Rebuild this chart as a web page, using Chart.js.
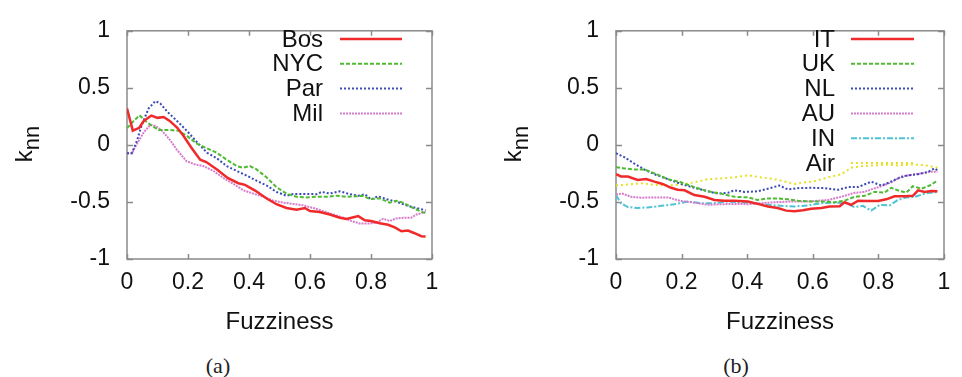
<!DOCTYPE html>
<html>
<head>
<meta charset="utf-8">
<script src="https://cdn.jsdelivr.net/npm/chart.js@4.4.1/dist/chart.umd.min.js"></script>
<style>
  body { margin: 0; background: #fff; width: 962px; height: 377px; position: relative; overflow: hidden; }
  canvas { position: absolute; top: 0; }
  #panel-a { left: 0; }
  #panel-b { left: 481px; }
  .cap { position: absolute; top: 353px; font: 22px 'Liberation Serif', serif; color: #222; transform: translateX(-50%); }
</style>
</head>
<body>
<canvas id="panel-a" width="481" height="340"></canvas>
<canvas id="panel-b" width="481" height="340"></canvas>
<div class="cap" style="left:218px">(a)</div>
<div class="cap" style="left:736px">(b)</div>
<script>
// --- Axis ticks ---
const xTicks = [0, 0.2, 0.4, 0.6, 0.8, 1];
const yTicks = [-1, -0.5, 0, 0.5, 1];

// --- Panel (a): cities ---
const bosX = [0, 0.019, 0.04, 0.055, 0.08, 0.1, 0.12, 0.14, 0.165, 0.185, 0.21, 0.24, 0.26, 0.295, 0.33, 0.365, 0.387, 0.42, 0.458, 0.49, 0.523, 0.556, 0.583, 0.6, 0.632, 0.665, 0.698, 0.72, 0.736, 0.758, 0.78, 0.8, 0.829, 0.856, 0.878, 0.9, 0.921, 0.943, 0.965, 0.979];
const bosY = [0.32, 0.125, 0.15, 0.21, 0.257, 0.237, 0.245, 0.21, 0.15, 0.08, -0.02, -0.13, -0.15, -0.215, -0.29, -0.336, -0.35, -0.40, -0.47, -0.52, -0.553, -0.568, -0.553, -0.58, -0.588, -0.61, -0.638, -0.65, -0.638, -0.624, -0.66, -0.667, -0.686, -0.70, -0.723, -0.757, -0.751, -0.774, -0.80, -0.802];

const nycX = [0, 0.022, 0.041, 0.06, 0.082, 0.104, 0.142, 0.169, 0.196, 0.229, 0.262, 0.294, 0.327, 0.36, 0.38, 0.403, 0.425, 0.458, 0.49, 0.523, 0.556, 0.589, 0.622, 0.654, 0.687, 0.72, 0.752, 0.774, 0.796, 0.829, 0.861, 0.883, 0.905, 0.938, 0.96, 0.979];
const nycY = [0.147, 0.21, 0.26, 0.21, 0.167, 0.13, 0.13, 0.124, 0.08, 0.01, -0.03, -0.068, -0.13, -0.186, -0.2, -0.186, -0.215, -0.285, -0.37, -0.427, -0.455, -0.46, -0.455, -0.455, -0.446, -0.455, -0.45, -0.446, -0.475, -0.469, -0.506, -0.49, -0.506, -0.553, -0.58, -0.60];

const parX = [0, 0.016, 0.033, 0.049, 0.071, 0.093, 0.109, 0.131, 0.164, 0.196, 0.229, 0.262, 0.294, 0.327, 0.36, 0.393, 0.425, 0.458, 0.49, 0.523, 0.545, 0.589, 0.622, 0.638, 0.665, 0.698, 0.731, 0.758, 0.78, 0.8, 0.823, 0.85, 0.883, 0.916, 0.949, 0.979];
const parY = [-0.073, -0.073, 0.04, 0.18, 0.32, 0.384, 0.364, 0.294, 0.21, 0.124, 0.025, -0.068, -0.116, -0.186, -0.229, -0.27, -0.314, -0.356, -0.412, -0.446, -0.43, -0.43, -0.432, -0.412, -0.426, -0.407, -0.432, -0.446, -0.432, -0.478, -0.45, -0.475, -0.497, -0.53, -0.553, -0.573];

const milX = [0, 0.016, 0.033, 0.055, 0.076, 0.093, 0.115, 0.142, 0.164, 0.196, 0.224, 0.251, 0.284, 0.316, 0.349, 0.382, 0.414, 0.447, 0.48, 0.513, 0.545, 0.578, 0.611, 0.643, 0.676, 0.709, 0.736, 0.763, 0.796, 0.818, 0.84, 0.861, 0.883, 0.911, 0.932, 0.949, 0.979];
const milY = [-0.073, -0.073, 0.011, 0.11, 0.175, 0.167, 0.124, 0.04, -0.045, -0.144, -0.172, -0.186, -0.229, -0.29, -0.342, -0.398, -0.427, -0.455, -0.489, -0.506, -0.517, -0.53, -0.553, -0.58, -0.61, -0.638, -0.667, -0.689, -0.689, -0.68, -0.647, -0.667, -0.644, -0.638, -0.638, -0.61, -0.588];

// --- Panel (b): countries ---
const itX = [0, 0.015, 0.036, 0.066, 0.092, 0.117, 0.142, 0.168, 0.188, 0.209, 0.239, 0.27, 0.3, 0.33, 0.361, 0.402, 0.432, 0.463, 0.493, 0.519, 0.544, 0.57, 0.595, 0.626, 0.651, 0.682, 0.697, 0.717, 0.738, 0.768, 0.799, 0.824, 0.849, 0.88, 0.905, 0.921, 0.941, 0.961, 0.98];
const itY = [-0.257, -0.277, -0.277, -0.308, -0.3, -0.322, -0.342, -0.376, -0.393, -0.398, -0.44, -0.455, -0.483, -0.489, -0.489, -0.497, -0.517, -0.54, -0.553, -0.576, -0.582, -0.573, -0.559, -0.553, -0.54, -0.537, -0.503, -0.525, -0.489, -0.492, -0.492, -0.477, -0.45, -0.45, -0.446, -0.398, -0.412, -0.404, -0.407];

const ukX = [0, 0.025, 0.056, 0.086, 0.117, 0.158, 0.198, 0.239, 0.28, 0.32, 0.361, 0.402, 0.432, 0.463, 0.493, 0.524, 0.554, 0.595, 0.636, 0.666, 0.697, 0.727, 0.758, 0.788, 0.819, 0.839, 0.865, 0.885, 0.905, 0.931, 0.956, 0.98];
const ukY = [-0.195, -0.206, -0.215, -0.215, -0.249, -0.3, -0.328, -0.37, -0.407, -0.427, -0.455, -0.46, -0.483, -0.469, -0.469, -0.477, -0.489, -0.497, -0.497, -0.503, -0.489, -0.455, -0.446, -0.412, -0.418, -0.376, -0.404, -0.418, -0.362, -0.384, -0.356, -0.314];

const nlX = [0, 0.025, 0.056, 0.086, 0.117, 0.158, 0.198, 0.239, 0.28, 0.31, 0.341, 0.361, 0.392, 0.432, 0.463, 0.498, 0.524, 0.554, 0.595, 0.636, 0.677, 0.707, 0.738, 0.778, 0.809, 0.834, 0.859, 0.89, 0.921, 0.951, 0.971, 0.98];
const nlY = [-0.073, -0.107, -0.164, -0.215, -0.257, -0.3, -0.342, -0.376, -0.407, -0.427, -0.42, -0.398, -0.412, -0.407, -0.384, -0.356, -0.39, -0.379, -0.376, -0.379, -0.393, -0.37, -0.37, -0.322, -0.356, -0.328, -0.294, -0.266, -0.257, -0.237, -0.206, -0.223];

const auX = [0, 0.02, 0.046, 0.076, 0.117, 0.158, 0.198, 0.239, 0.28, 0.32, 0.361, 0.402, 0.443, 0.483, 0.524, 0.565, 0.605, 0.646, 0.687, 0.727, 0.758, 0.778, 0.809, 0.839, 0.87, 0.9, 0.931, 0.961, 0.98];
const auY = [-0.435, -0.427, -0.455, -0.463, -0.46, -0.46, -0.492, -0.506, -0.525, -0.52, -0.517, -0.52, -0.511, -0.503, -0.497, -0.497, -0.492, -0.483, -0.455, -0.42, -0.412, -0.39, -0.362, -0.328, -0.277, -0.263, -0.249, -0.234, -0.237];

const inX = [0, 0.015, 0.036, 0.066, 0.097, 0.137, 0.178, 0.219, 0.259, 0.3, 0.341, 0.381, 0.422, 0.463, 0.504, 0.544, 0.585, 0.626, 0.666, 0.702, 0.727, 0.753, 0.778, 0.804, 0.834, 0.859, 0.885, 0.911, 0.941, 0.98];
const inY = [-0.44, -0.511, -0.545, -0.553, -0.548, -0.534, -0.52, -0.497, -0.511, -0.511, -0.497, -0.503, -0.511, -0.525, -0.534, -0.54, -0.53, -0.511, -0.506, -0.511, -0.545, -0.534, -0.576, -0.525, -0.53, -0.483, -0.46, -0.455, -0.427, -0.412];

const airX = [0, 0.036, 0.076, 0.117, 0.158, 0.198, 0.239, 0.28, 0.32, 0.361, 0.402, 0.443, 0.483, 0.524, 0.544, 0.575, 0.605, 0.646, 0.687, 0.717, 0.748, 0.788, 0.819, 0.859, 0.9, 0.941, 0.98];
const airY = [-0.356, -0.347, -0.336, -0.35, -0.356, -0.347, -0.328, -0.3, -0.294, -0.285, -0.266, -0.285, -0.3, -0.328, -0.342, -0.328, -0.319, -0.285, -0.257, -0.2, -0.186, -0.18, -0.172, -0.18, -0.172, -0.178, -0.2];

const FONT = "'Liberation Sans', Arial, sans-serif";

function series(label, xs, ys, color, dash, width) {
    return {
        label: label,
        data: xs.map((x, i) => ({ x: x, y: ys[i] })),
        borderColor: color,
        borderDash: dash,
        borderWidth: width || 2,
        pointRadius: 0,
        tension: 0,
        fill: false
    };
}

// frame with inward ticks on all four sides (gnuplot look)
const framePlugin = {
    id: 'frame',
    beforeDatasetsDraw(chart) {
        const { ctx, chartArea: a, scales } = chart;
        ctx.save();
        ctx.strokeStyle = '#8a8a8a';
        ctx.lineWidth = 1.5;
        ctx.strokeRect(a.left, a.top, a.width, a.height);
        ctx.beginPath();
        xTicks.forEach((v) => {
            const px = Math.round(scales.x.getPixelForValue(v)) + 0.5;
            ctx.moveTo(px, a.bottom); ctx.lineTo(px, a.bottom - 5);
            ctx.moveTo(px, a.top); ctx.lineTo(px, a.top + 5);
        });
        yTicks.forEach((v) => {
            const py = Math.round(scales.y.getPixelForValue(v)) + 0.5;
            ctx.moveTo(a.left, py); ctx.lineTo(a.left + 6, py);
            ctx.moveTo(a.right, py); ctx.lineTo(a.right - 6, py);
        });
        ctx.stroke();
        ctx.restore();
    }
};

// legend: text right-aligned, sample line to its right
const keyPlugin = {
    id: 'keyBox',
    afterDatasetsDraw(chart, args, opts) {
        const ctx = chart.ctx;
        ctx.save();
        ctx.font = '24px ' + FONT;
        ctx.textAlign = 'right';
        ctx.textBaseline = 'middle';
        chart.data.datasets.forEach((ds, i) => {
            const y = opts.top + i * 24.8;
            ctx.fillStyle = '#111';
            ctx.fillText(ds.label, opts.textRight, y + 1);
            ctx.strokeStyle = ds.borderColor;
            ctx.lineWidth = ds.borderWidth;
            ctx.setLineDash(ds.borderDash || []);
            ctx.beginPath();
            ctx.moveTo(opts.x0, y);
            ctx.lineTo(opts.x1, y);
            ctx.stroke();
            ctx.setLineDash([]);
        });
        ctx.restore();
    }
};

// axis titles: "Fuzziness" and k with subscript nn
const titlePlugin = {
    id: 'axisTitles',
    afterDraw(chart) {
        const { ctx, chartArea: a } = chart;
        ctx.save();
        ctx.fillStyle = '#111';
        ctx.font = '24px ' + FONT;
        ctx.textAlign = 'center';
        ctx.textBaseline = 'middle';
        ctx.fillText('Fuzziness', (a.left + a.right) / 2, a.bottom + 63);

        ctx.translate(a.left - 95, (a.top + a.bottom) / 2 - 1);
        ctx.rotate(-Math.PI / 2);
        ctx.textAlign = 'left';
        ctx.textBaseline = 'alphabetic';
        ctx.font = '24px ' + FONT;
        const kw = ctx.measureText('k').width;
        ctx.font = '22px ' + FONT;
        const nw = ctx.measureText('nn').width;
        const x0 = -(kw + nw) / 2;
        ctx.font = '24px ' + FONT;
        ctx.fillText('k', x0, 0);
        ctx.font = '22px ' + FONT;
        ctx.fillText('nn', x0 + kw, 7);
        ctx.restore();
    }
};

function makeChart(id, datasets, leftW, rightPad, key) {
    return new Chart(document.getElementById(id), {
        type: 'line',
        data: { datasets: datasets },
        options: {
            responsive: false,
            animation: false,
            devicePixelRatio: 1,
            layout: { padding: { top: 23, right: rightPad, left: 0, bottom: 0 } },
            plugins: { legend: { display: false }, tooltip: { enabled: false }, keyBox: key },
            scales: {
                x: {
                    type: 'linear', min: 0, max: 1,
                    afterBuildTicks: (s) => { s.ticks = xTicks.map((v) => ({ value: v })); },
                    afterFit: (s) => { s.height = 81; },
                    grid: { display: false, drawTicks: false },
                    border: { display: false },
                    ticks: { padding: 10, color: '#111', font: { family: FONT, size: 23 }, maxRotation: 0,
                             callback: (v) => String(v) }
                },
                y: {
                    type: 'linear', min: -1, max: 1,
                    afterBuildTicks: (s) => { s.ticks = yTicks.map((v) => ({ value: v })); },
                    afterFit: (s) => { s.width = leftW; },
                    grid: { display: false, drawTicks: false },
                    border: { display: false },
                    ticks: { padding: 17, color: '#111', font: { family: FONT, size: 23 },
                             callback: (v) => String(v) }
                }
            }
        },
        plugins: [framePlugin, keyPlugin, titlePlugin]
    });
}

makeChart('panel-a', [
    series('Bos', bosX, bosY, '#f02a2a', [], 2.5),
    series('NYC', nycX, nycY, '#4fbb33', [4, 2]),
    series('Par', parX, parY, '#3a4ab8', [2, 2]),
    series('Mil', milX, milY, '#d67ccc', [2, 1])
], 127, 49, { top: 39, textRight: 323, x0: 340, x1: 402 });

makeChart('panel-b', [
    series('IT', itX, itY, '#f02a2a', [], 2.5),
    series('UK', ukX, ukY, '#4fbb33', [4, 2]),
    series('NL', nlX, nlY, '#3a4ab8', [2, 2]),
    series('AU', auX, auY, '#d67ccc', [2, 1]),
    series('IN', inX, inY, '#4fc3d3', [6, 2, 2, 2]),
    series('Air', airX, airY, '#e6e024', [2, 3])
], 135, 18, { top: 39, textRight: 354, x0: 370, x1: 433 });
</script>
</body>
</html>
